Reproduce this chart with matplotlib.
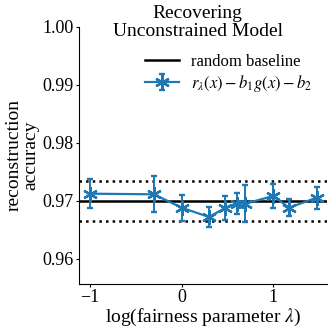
import matplotlib
matplotlib.use("Agg")
import matplotlib.pyplot as plt
import numpy as np

plt.rcParams['font.family'] = ['Liberation Serif', 'DejaVu Serif']
plt.rcParams['mathtext.fontset'] = 'stix'

log_lambda = [-1.0, -0.301, 0.0, 0.301, 0.477, 0.602, 0.699, 1.0, 1.176, 1.477]
accuracy = [0.97126, 0.97115, 0.96885, 0.96724, 0.9688, 0.96954, 0.96954, 0.97086, 0.96885, 0.97057]
acc_err = [0.00253, 0.0031, 0.00226, 0.00178, 0.0020, 0.00187, 0.0032, 0.00207, 0.00147, 0.0019]
baseline = 0.97
baseline_band = [0.9666, 0.9734]
yticks = [0.96, 0.97, 0.98, 0.99, 1.00]
xticks = [-1, 0, 1]

fig = plt.figure(figsize=(3.32, 3.29), dpi=100)
ax = fig.add_axes([0.238, 0.137, 0.747, 0.781])

ax.axhline(baseline, color='black', lw=1.8, label='random baseline')
for b in baseline_band:
    ax.axhline(b, color='black', lw=1.8, ls=':')
ax.errorbar(log_lambda, accuracy, yerr=acc_err, color='#1f77b4', lw=1.6,
            marker=(6, 2, 0), markersize=10.5, markeredgewidth=1.7, capsize=2,
            elinewidth=1.4, capthick=1.4,
            label=r'$r_\lambda(x) - b_1 g(x) - b_2$')

ax.set_ylim(0.9557, 1.0)
ax.set_xlim(-1.12, 1.59)
ax.set_yticks(yticks)
ax.set_xticks(xticks)
ax.set_yticklabels([f'{v:.2f}' for v in yticks])
ax.set_xticklabels(['\u22121', '0', '1'])
ax.tick_params(labelsize=13, length=2.5, pad=1.5)
ax.spines['top'].set_visible(False)
ax.spines['right'].set_visible(False)
ax.set_xlabel(r'log(fairness parameter $\lambda$)', fontsize=14, labelpad=0)
ax.set_ylabel('reconstruction\naccuracy', fontsize=14, labelpad=2, linespacing=1.0)
fig.text(0.595, 0.985, 'Recovering\nUnconstrained Model', fontsize=14,
         ha='center', va='top', linespacing=1.05)
ax.legend(loc='upper right', frameon=False, fontsize=12, bbox_to_anchor=(1.0, 0.955),
          handlelength=2.0, handletextpad=0.75, labelspacing=0.2)

fig.savefig('out.png', dpi=100)
